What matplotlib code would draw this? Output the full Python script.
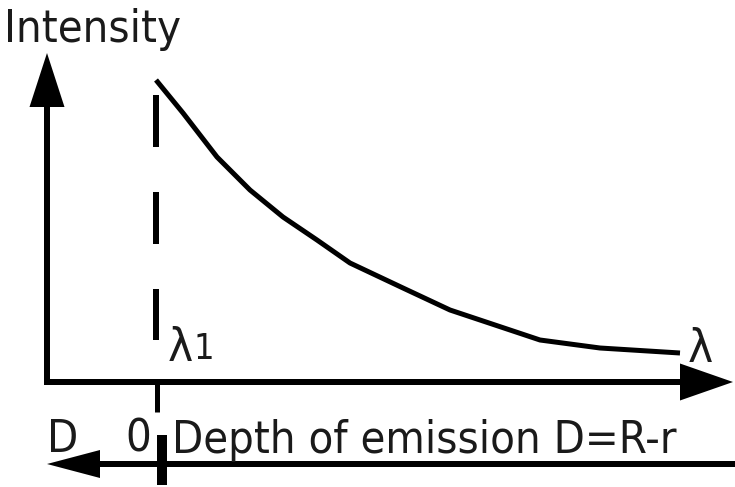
import matplotlib
matplotlib.use("Agg")
import matplotlib.pyplot as plt

# ------------------------------------------------------------
# data (pixel space of the 735x487 sketch, y grows downward)
# ------------------------------------------------------------
curve_x = [156, 183, 217, 250, 283, 317, 350, 403, 450, 540, 600, 680]
curve_y = [80, 113, 157, 190, 217, 240, 263, 288, 310, 340, 348, 353]

origin = (47, 382)          # corner of the intensity / wavelength axes
y_axis_top = 53
x_axis_right = 733
lambda1_x = 156             # dashed marker at lambda_1
dash_top, dash_bottom = 95, 340

depth_y = 464               # lower "depth" axis
depth_left, depth_right = 47, 735
zero_x = 162

label_intensity = "Intensity"
label_lambda = "λ"
label_sub = "1"
label_D = "D"
label_zero = "0"
label_depth = "Depth of emission D=R-r"

# ------------------------------------------------------------
plt.rcParams["lines.scale_dashes"] = False
plt.rcParams["font.family"] = ["DejaVu Sans"]

fig = plt.figure(figsize=(7.35, 4.87), dpi=100)
ax = fig.add_axes([0, 0, 1, 1])
ax.set_xlim(0, 735)
ax.set_ylim(487, 0)
ax.axis("off")

px = 72 / 100  # pixels -> points
txt = "#1a1a1a"
cond = dict(color=txt, va="baseline", fontstretch="condensed")

# axes arrows
ax.arrow(origin[0], origin[1], 0, y_axis_top - origin[1], width=6,
         head_width=35, head_length=54, length_includes_head=True,
         color="k", lw=0)
ax.arrow(origin[0] - 3, origin[1], x_axis_right - origin[0] + 3, 0, width=6,
         head_width=37, head_length=53, length_includes_head=True,
         color="k", lw=0)

# lower depth arrow, pointing left
ax.arrow(depth_right, depth_y, depth_left - depth_right, 0, width=6,
         head_width=28, head_length=53, length_includes_head=True,
         color="k", lw=0)

# ticks
ax.plot([lambda1_x + 1, lambda1_x + 1], [origin[1], 412], color="k",
        lw=5 * px, solid_capstyle="butt")
ax.plot([zero_x, zero_x], [435, 485], color="k", lw=10 * px,
        solid_capstyle="butt")

# dashed lambda_1 marker
ax.plot([lambda1_x, lambda1_x], [dash_top, dash_bottom], color="k",
        lw=6 * px, dashes=(52 * px, 45 * px), dash_capstyle="butt")

# intensity curve
ax.plot(curve_x, curve_y, color="k", lw=5 * px, solid_capstyle="butt",
        solid_joinstyle="round")

# labels
ax.text(4, 42, label_intensity, fontsize=32.5, **cond)
ax.text(168, 361, label_lambda, fontsize=34, **cond)
ax.text(194, 359, label_sub, fontsize=26, **cond)
ax.text(688, 362, label_lambda, fontsize=34, **cond)
ax.text(47, 452, label_D, fontsize=32.5, **cond)
ax.text(138, 452, label_zero, fontsize=32.5, ha="center",
        **{k: v for k, v in cond.items()})
ax.text(172, 453, label_depth, fontsize=32.5, **cond)

fig.savefig("out.png", dpi=100)
